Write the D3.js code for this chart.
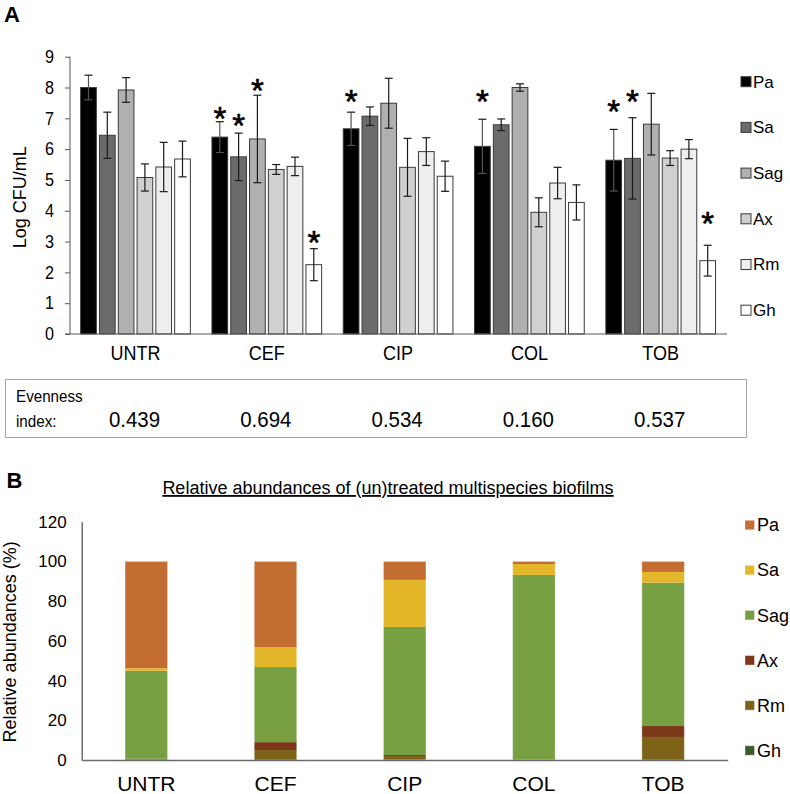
<!DOCTYPE html>
<html>
<head>
<meta charset="utf-8">
<script src="https://cdn.jsdelivr.net/npm/d3@7"></script>
<style>
  html, body { margin: 0; padding: 0; background: #fff; }
  svg { display: block; }
  text { font-family: "Liberation Sans", Arial, sans-serif; fill: #000; }
</style>
</head>
<body>
<svg id="chart" width="790" height="794"></svg>
<script>
// ---------- DATA ----------
const categories = ["UNTR", "CEF", "CIP", "COL", "TOB"];
const species = ["Pa", "Sa", "Sag", "Ax", "Rm", "Gh"];

// Panel A: log CFU/mL (mean) per species, per category
const paLog  = [8.00, 6.39, 6.66, 6.09, 5.64];
const saLog  = [6.45, 5.75, 7.07, 6.79, 5.70];
const sagLog = [7.92, 6.33, 7.49, 8.00, 6.81];
const axLog  = [5.08, 5.34, 5.41, 3.95, 5.71];
const rmLog  = [5.42, 5.44, 5.92, 4.90, 6.00];
const ghLog  = [5.68, 2.25, 5.12, 4.27, 2.38];

// Panel A: error (± SD)
const paErr  = [0.40, 0.50, 0.54, 0.88, 1.00];
const saErr  = [0.75, 0.77, 0.30, 0.19, 1.32];
const sagErr = [0.40, 1.42, 0.81, 0.12, 1.00];
const axErr  = [0.44, 0.16, 0.94, 0.47, 0.24];
const rmErr  = [0.80, 0.30, 0.45, 0.51, 0.31];
const ghErr  = [0.58, 0.52, 0.49, 0.57, 0.50];

// Significance asterisks: [category, species, height in log units]
const asterisks = [
  ["CEF", "Pa", 7.22], ["CEF", "Sa", 7.00], ["CEF", "Sag", 8.14], ["CEF", "Gh", 3.21],
  ["CIP", "Pa", 7.78], ["COL", "Pa", 7.78],
  ["TOB", "Pa", 7.46], ["TOB", "Sa", 7.76], ["TOB", "Gh", 3.81]
];

const evenness = ["0.439", "0.694", "0.534", "0.160", "0.537"];
const yTicksA = [0, 1, 2, 3, 4, 5, 6, 7, 8, 9];

// Panel B: relative abundances (%)
const paRel  = [53.8, 43.2, 9.3, 1.3, 5.3];
const saRel  = [1.3, 10.0, 23.7, 5.5, 5.4];
const sagRel = [44.3, 37.8, 64.5, 93.1, 72.2];
const axRel  = [0.1, 4.0, 0.5, 0.01, 5.5];
const rmRel  = [0.2, 5.0, 1.7, 0.07, 11.6];
const ghRel  = [0.3, 0.0, 0.3, 0.02, 0.0];
const yTicksB = [0, 20, 40, 60, 80, 100, 120];

const titleB = "Relative abundances of (un)treated multispecies biofilms";

// ---------- STYLES ----------
const greyFill = { Pa: "#000000", Sa: "#6b6b6b", Sag: "#b0b0b0", Ax: "#d0d0d0", Rm: "#eeeeee", Gh: "#ffffff" };
const colFill  = { Pa: "#c46d33", Sa: "#e4b62a", Sag: "#77a043", Ax: "#7b3717", Rm: "#7c6318", Gh: "#3d5a26" };
const fontA = "Liberation Sans, Arial, sans-serif";

const logBySp = { Pa: paLog, Sa: saLog, Sag: sagLog, Ax: axLog, Rm: rmLog, Gh: ghLog };
const errBySp = { Pa: paErr, Sa: saErr, Sag: sagErr, Ax: axErr, Rm: rmErr, Gh: ghErr };
const relBySp = { Pa: paRel, Sa: saRel, Sag: sagRel, Ax: axRel, Rm: rmRel, Gh: ghRel };

const svg = d3.select("#chart");

function label(g, x, y, str, size, opts = {}) {
  const sx = opts.sx || 1;
  const t = g.append("text")
    .attr("transform", `translate(${x},${y}) scale(${sx},1)`)
    .attr("font-size", size)
    .attr("text-anchor", opts.anchor || "start")
    .text(str);
  if (opts.weight) t.attr("font-weight", opts.weight);
  if (opts.dy) t.attr("dy", opts.dy);
  return t;
}

// ================= PANEL A =================
const gA = svg.append("g");
const xA = d3.scaleBand().domain(categories).range([69.85, 726.35]);
const innerA = d3.scaleBand().domain(species).range([-56.4, 56.4]);
const barWA = 15.7;
const yA = d3.scaleLinear().domain([0, 9]).range([334, 56.7]);

label(gA, 4, 21.7, "A", 22, { weight: "bold" });

// bars
const barsA = [];
categories.forEach((c, i) => species.forEach(s => barsA.push({ c, s, v: logBySp[s][i], e: errBySp[s][i] })));

gA.selectAll("rect.barA").data(barsA).join("rect")
  .attr("class", "barA")
  .attr("x", d => xA(d.c) + xA.bandwidth() / 2 + innerA(d.s) + (innerA.bandwidth() - barWA) / 2)
  .attr("width", barWA)
  .attr("y", d => yA(d.v))
  .attr("height", d => yA(0) - yA(d.v))
  .attr("fill", d => greyFill[d.s])
  .attr("stroke", "#3a3a3a")
  .attr("stroke-width", 1);

// error bars
const cx = d => xA(d.c) + xA.bandwidth() / 2 + innerA(d.s) + innerA.bandwidth() / 2;
const eg = gA.append("g").attr("stroke", "#1a1a1a").attr("stroke-width", 1.2);
eg.selectAll("line.ev").data(barsA).join("line")
  .attr("x1", cx).attr("x2", cx)
  .attr("y1", d => yA(d.v + d.e)).attr("y2", d => yA(d.v - d.e))
  .attr("stroke", d => d.s === "Pa" ? "#555" : "#1a1a1a");
eg.selectAll("line.et").data(barsA).join("line")
  .attr("x1", d => cx(d) - 4).attr("x2", d => cx(d) + 4)
  .attr("y1", d => yA(d.v + d.e)).attr("y2", d => yA(d.v + d.e));
eg.selectAll("line.eb").data(barsA).join("line")
  .attr("x1", d => cx(d) - 4).attr("x2", d => cx(d) + 4)
  .attr("y1", d => yA(d.v - d.e)).attr("y2", d => yA(d.v - d.e))
  .attr("stroke", d => d.s === "Pa" ? "#555" : "#1a1a1a");

// asterisks
const astSize = 33;
gA.selectAll("text.ast").data(asterisks).join("text")
  .attr("class", "ast")
  .attr("x", d => cx({ c: d[0], s: d[1] }))
  .attr("y", d => yA(d[2]) + 0.56 * astSize)
  .attr("text-anchor", "middle")
  .attr("font-size", astSize)
  .attr("stroke", "#000").attr("stroke-width", 0.6)
  .text("*");

// y axis
const axisA = gA.append("g").attr("transform", `translate(70,0)`)
  .call(d3.axisLeft(yA).tickValues(yTicksA).tickSize(5).tickSizeOuter(0).tickPadding(12.8));
axisA.select(".domain").attr("stroke", "#595959").attr("d", `M0,${yA(9)}V${yA(0)}`);
axisA.selectAll(".tick line").attr("stroke", "#595959");
axisA.selectAll(".tick text").attr("font-size", 18).attr("font-family", fontA)
  .attr("fill", "#000").attr("transform", "scale(0.9,1)");

// x axis
const xAxisA = gA.append("g").attr("transform", `translate(0,${yA(0)})`)
  .call(d3.axisBottom(xA).tickSize(0).tickPadding(11.8));
xAxisA.select(".domain").attr("stroke", "#595959").attr("d", `M65,0H727`);
xAxisA.selectAll(".tick text").attr("font-size", 20).attr("font-family", fontA)
  .attr("fill", "#000").attr("transform", "scale(0.9,1)");

// y label
gA.append("text")
  .attr("transform", `translate(25.5,${(yA(0) + yA(9)) / 2 + 2}) rotate(-90)`)
  .attr("text-anchor", "middle").attr("font-size", 18)
  .text("Log CFU/mL");

// legend A
species.forEach((s, i) => {
  const yy = 81.7 + i * 45.7;
  gA.append("rect").attr("x", 741).attr("y", yy - 5).attr("width", 10).attr("height", 10)
    .attr("fill", greyFill[s]).attr("stroke", "#3a3a3a").attr("stroke-width", 1);
  label(gA, 753, yy, s, 17, { dy: "0.35em" });
});

// evenness box
gA.append("rect").attr("x", 5.5).attr("y", 379.5).attr("width", 741).attr("height", 58)
  .attr("fill", "none").attr("stroke", "#a6a6a6").attr("stroke-width", 1);
label(gA, 16, 401.7, "Evenness", 16, { sx: 0.95 });
label(gA, 16, 426.7, "index:", 16, { sx: 0.95 });
evenness.forEach((e, i) => {
  label(gA, xA(categories[i]) + xA.bandwidth() / 2 - 1, 427, e, 22, { sx: 0.93, anchor: "middle" });
});

// ================= PANEL B =================
const gB = svg.append("g");
const xB = d3.scaleBand().domain(categories).range([81.7, 727.7]);
const barWB = 42.5;
const yB = d3.scaleLinear().domain([0, 120]).range([760, 521.7]);

label(gB, 6.5, 488, "B", 22, { weight: "bold" });

const stackOrder = ["Gh", "Rm", "Ax", "Sag", "Sa", "Pa"];
const rows = categories.map((c, i) => {
  const r = { c };
  species.forEach(s => r[s] = relBySp[s][i]);
  return r;
});
const stacked = d3.stack().keys(stackOrder)(rows);

gB.selectAll("g.layer").data(stacked).join("g")
  .attr("class", "layer")
  .attr("fill", d => colFill[d.key])
  .selectAll("rect").data(d => d).join("rect")
  .attr("x", d => xB(d.data.c) + (xB.bandwidth() - barWB) / 2)
  .attr("width", barWB)
  .attr("y", d => yB(d[1]))
  .attr("height", d => Math.max(0, yB(d[0]) - yB(d[1])));

// light edge around bars (Excel style)
gB.selectAll("rect.edge").data(rows).join("rect")
  .attr("class", "edge")
  .attr("x", d => xB(d.c) + (xB.bandwidth() - barWB) / 2)
  .attr("width", barWB)
  .attr("y", yB(100))
  .attr("height", yB(0) - yB(100))
  .attr("fill", "none").attr("stroke", "#ffffff").attr("stroke-opacity", 0.35).attr("stroke-width", 1);

const axisB = gB.append("g").attr("transform", `translate(81.7,0)`)
  .call(d3.axisLeft(yB).tickValues(yTicksB).tickSize(0).tickPadding(15));
axisB.select(".domain").attr("stroke", "#6d6d6d").attr("stroke-width", 1.5);
axisB.selectAll(".tick text").attr("font-size", 17).attr("font-family", fontA).attr("fill", "#000");

const xAxisB = gB.append("g").attr("transform", `translate(0,${yB(0)})`)
  .call(d3.axisBottom(xB).tickSize(0).tickPadding(16));
xAxisB.select(".domain").attr("stroke", "#6d6d6d").attr("stroke-width", 1.5);
xAxisB.selectAll(".tick text").attr("font-size", 21).attr("font-family", fontA).attr("fill", "#000");

gB.append("text")
  .attr("transform", `translate(16,${(yB(0) + yB(120)) / 2 + 1}) rotate(-90)`)
  .attr("text-anchor", "middle").attr("font-size", 18)
  .text("Relative abundances (%)");

gB.append("text")
  .attr("x", 388).attr("y", 494)
  .attr("text-anchor", "middle").attr("font-size", 18)
  .style("text-decoration", "underline")
  .text(titleB);

species.forEach((s, i) => {
  const yy = 525 + i * 45.1;
  gB.append("rect").attr("x", 745).attr("y", yy - 4.75).attr("width", 9.5).attr("height", 9.5)
    .attr("fill", colFill[s]).attr("stroke", "#ffffff").attr("stroke-opacity", 0.4).attr("stroke-width", 1);
  label(gB, 757, yy, s, 18, { dy: "0.35em" });
});
</script>
</body>
</html>
